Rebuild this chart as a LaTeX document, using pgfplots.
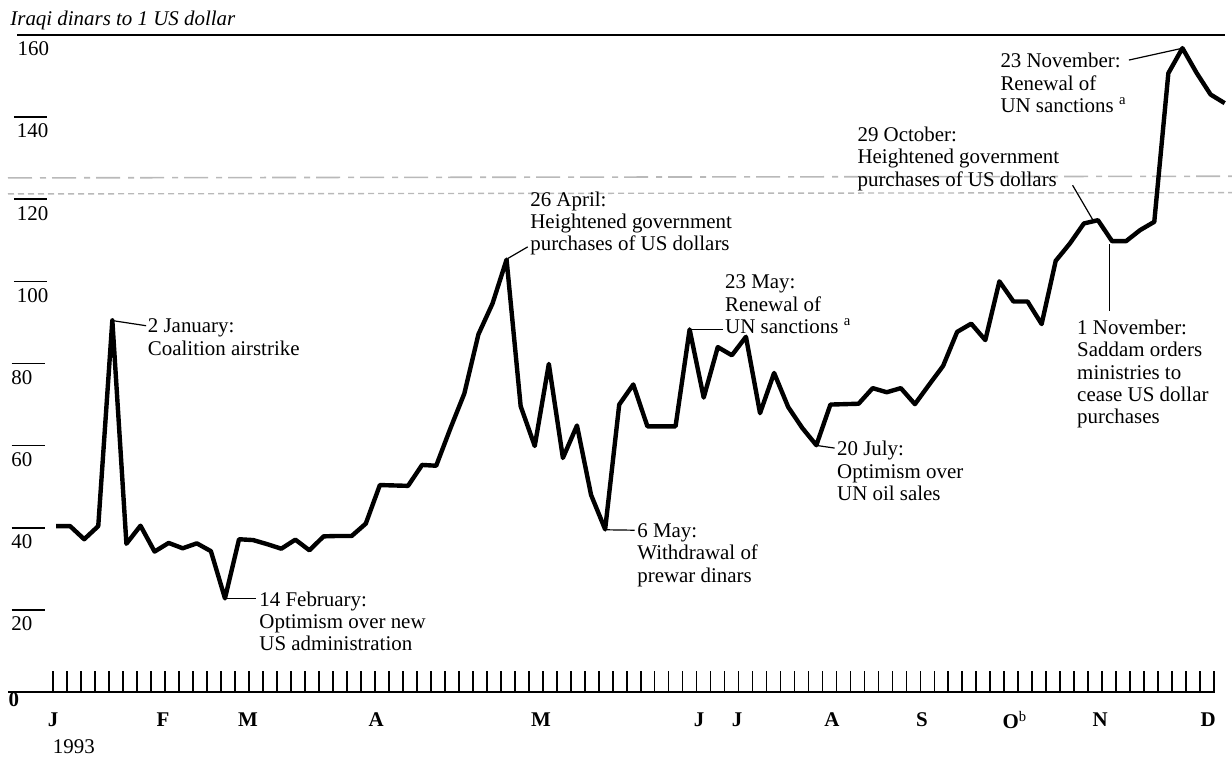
\documentclass[border=0pt]{standalone}
\usepackage{fontspec}
\setmainfont{Liberation Serif}
\usepackage{pgfplots}
\pgfplotsset{compat=1.18}
\pgfplotstableread{
i v
0 40.4
1 40.4
2 37.2
3 40.4
4 90.5
5 36.1
6 40.5
7 34.2
8 36.3
9 35.0
10 36.2
11 34.3
12 22.8
13 37.2
14 37.0
15 36.0
16 34.9
17 37.1
18 34.5
19 37.9
20 38.0
21 38.0
22 41.0
23 50.4
24 50.3
25 50.2
26 55.3
27 55.1
28 64.1
29 72.7
30 87.1
31 94.6
32 105.3
33 69.6
34 59.9
35 79.9
36 57.0
37 64.9
38 48.0
39 39.6
40 70.0
41 74.9
42 64.7
43 64.7
44 64.7
45 88.3
46 71.7
47 84.0
48 82.0
49 86.5
50 67.9
51 77.7
52 69.4
53 64.3
54 60.1
55 70.0
56 70.1
57 70.2
58 74.0
59 73.0
60 74.0
61 70.1
62 74.8
63 79.4
64 87.7
65 89.7
66 85.7
67 100.0
68 95.1
69 95.1
70 89.6
71 105.0
72 109.2
73 114.1
74 114.9
75 109.8
76 109.8
77 112.5
78 114.5
79 150.7
80 156.8
81 150.8
82 145.5
83 143.4
}\rate
\tikzset{
  annot/.style={anchor=north west, inner sep=0pt, align=left, yshift=3.6bp,
    font=\fontsize{10.5}{11.25}\selectfont},
  conn/.style={black, line width=0.6bp},
  ylab/.style={anchor=west, inner sep=0pt, yshift=-7bp, font=\fontsize{10.5}{12}\selectfont},
  mon/.style={anchor=center, inner sep=0pt, yshift=-14bp, font=\fontsize{10.5}{12}\selectfont\bfseries},
}
\begin{document}
\begin{tikzpicture}
\useasboundingbox (-4bp,-32.5bp) rectangle (612bp,346bp);
\node[anchor=west, inner sep=0pt, font=\fontsize{10.5}{12}\selectfont\itshape] at (1bp,336bp) {Iraqi dinars to 1 US dollar};
\begin{axis}[
  at={(0,0)}, anchor=south west,
  scale only axis, width=612bp, height=328.5bp,
  xmin=-3.41, xmax=83.52, ymin=0, ymax=160,
  axis x line*=bottom, axis y line=none,
  x axis line style={draw=none},
  xtick={-0.213,0.7806,...,82.4},
  xticklabels={},
  tick align=inside, major tick length=10.5bp,
  xtick style={line width=0.9bp, black},
  clip=false,
]
% scan artefacts (dashed lines)
\draw[gray!55, line width=0.8bp, dash pattern=on 12bp off 4bp on 3bp off 3bp] (axis cs:-3.41,125.2) -- (axis cs:83.52,125.6);
\draw[gray!55, line width=0.7bp, dash pattern=on 3bp off 2bp] (axis cs:-3.41,121.3) -- (axis cs:83.52,121.6);
% frame lines
\draw[black, line width=1.3bp] (axis cs:-2.77,160) -- (axis cs:83.0,160);
\draw[black, line width=1bp] (axis cs:-3.41,0) -- (axis cs:82.3,0);
% y ticks and labels
\pgfplotsinvokeforeach{20,40,60,80}{
  \draw[black, line width=0.8bp] (axis cs:-3.15,#1) -- (axis cs:-0.75,#1);
  \node[ylab] at (axis cs:-3.2,#1) {#1};
}
\pgfplotsinvokeforeach{100,120,140}{
  \draw[black, line width=0.8bp] (axis cs:-3.0,#1) -- (axis cs:-0.65,#1);
  \node[ylab] at (axis cs:-2.8,#1) {#1};
}
\node[ylab] at (axis cs:-2.75,160) {160};
\node[anchor=west, inner sep=0pt, yshift=-4bp, font=\fontsize{10.5}{12}\selectfont\bfseries] at (axis cs:-3.4,0) {0};
% month labels
\node[mon] at (axis cs:-0.2,0) {J};
\node[mon] at (axis cs:7.6,0) {F};
\node[mon] at (axis cs:13.64,0) {M};
\node[mon] at (axis cs:22.73,0) {A};
\node[mon] at (axis cs:34.45,0) {M};
\node[mon] at (axis cs:45.67,0) {J};
\node[mon] at (axis cs:48.37,0) {J};
\node[mon] at (axis cs:55.11,0) {A};
\node[mon] at (axis cs:61.5,0) {S};
\node[mon] at (axis cs:68.1,0) {O\textsuperscript{\normalfont b}};
\node[mon] at (axis cs:74.15,0) {N};
\node[mon] at (axis cs:81.82,0) {D};
\node[anchor=west, inner sep=0pt, yshift=-27.5bp, font=\fontsize{10.5}{12}\selectfont] at (axis cs:-0.25,0) {1993};
% data
\addplot[black, line width=2.2bp, line join=round, mark=none] table[x=i, y=v] {\rate};
% annotations
\draw[conn] (axis cs:4.1,90.4) -- (axis cs:6.4,89.2);
\node[annot] at (axis cs:6.5,89.2) {2 January:\\Coalition airstrike};
\draw[conn] (axis cs:12.1,22.8) -- (axis cs:14.2,22.8);
\node[annot] at (axis cs:14.42,22.8) {14 February:\\Optimism over new\\US administration};
\draw[conn] (axis cs:32.1,105.6) -- (axis cs:33.5,108.4);
\node[annot] at (axis cs:33.66,120.2) {26 April:\\Heightened government\\purchases of US dollars};
\draw[conn] (axis cs:39.1,39.5) -- (axis cs:41.1,39.4);
\node[annot] at (axis cs:41.26,39.4) {6 May:\\Withdrawal of\\prewar dinars};
\draw[conn] (axis cs:45.1,88.2) -- (axis cs:47.4,88.2);
\node[annot] at (axis cs:47.5,99.9) {23 May:\\Renewal of\\UN sanctions \textsuperscript{a}};
\draw[conn] (axis cs:54.1,60.0) -- (axis cs:55.3,59.4);
\node[annot] at (axis cs:55.45,59.4) {20 July:\\Optimism over\\UN oil sales};
\draw[conn] (axis cs:72.2,123.4) -- (axis cs:73.7,114.6);
\node[annot] at (axis cs:56.9,136.0) {29 October:\\Heightened government\\purchases of US dollars};
\draw[conn] (axis cs:76.2,153.9) -- (axis cs:79.9,156.7);
\node[annot] at (axis cs:67.05,153.9) {23 November:\\Renewal of\\UN sanctions \textsuperscript{a}};
\draw[conn] (axis cs:74.8,109.0) -- (axis cs:74.8,92.7);
\node[annot] at (axis cs:72.5,89.0) {1 November:\\Saddam orders\\ministries to\\cease US dollar\\purchases};
\end{axis}
\end{tikzpicture}
\end{document}
